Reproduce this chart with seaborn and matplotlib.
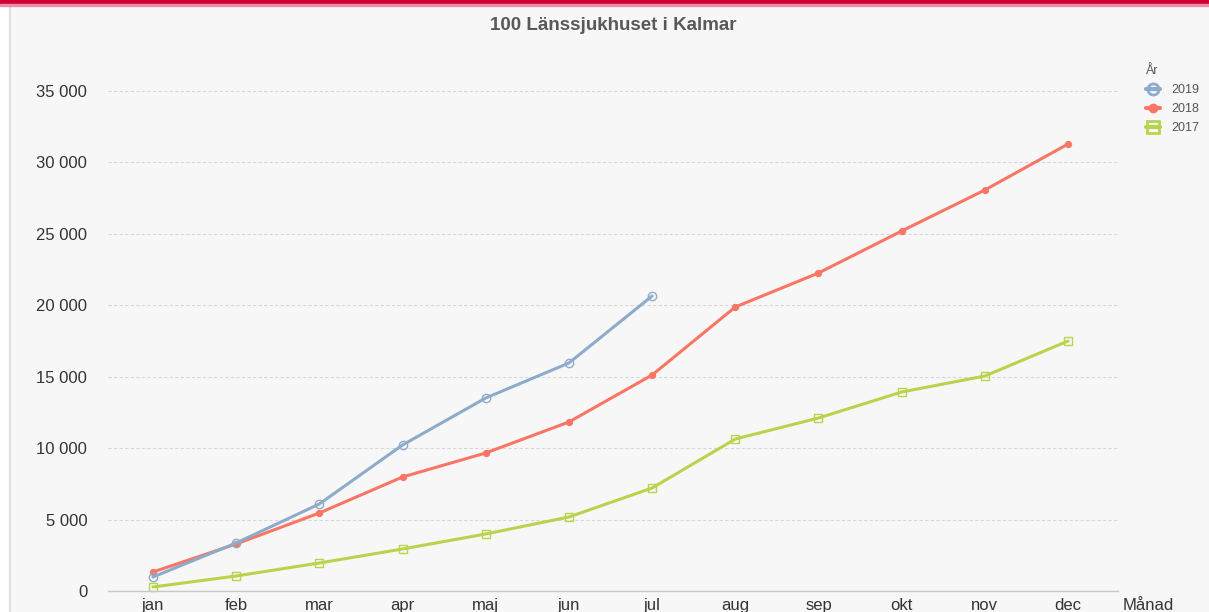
import numpy as np
import pandas as pd
import matplotlib
import matplotlib.pyplot as plt
import seaborn as sns
from matplotlib.ticker import FuncFormatter
from matplotlib.patches import Rectangle
from matplotlib.lines import Line2D

matplotlib.use('Agg')

# data (cumulative per month)
months = ['jan', 'feb', 'mar', 'apr', 'maj', 'jun', 'jul', 'aug', 'sep', 'okt', 'nov', 'dec']
years = ['2019', '2018', '2017']
values_2019 = [980, 3360, 6090, 10220, 13510, 15960, 20650]
values_2018 = [1330, 3290, 5460, 7980, 9660, 11830, 15120, 19880, 22260, 25200, 28070, 31290]
values_2017 = [280, 1050, 1960, 2940, 3990, 5180, 7210, 10640, 12110, 13930, 15050, 17500]

colors = {'2019': '#8eabcb', '2018': '#fa7664', '2017': '#b8d44c'}

rows = []
for year, vals in zip(years, [values_2019, values_2018, values_2017]):
    for i, v in enumerate(vals):
        rows.append({'Månad': i, 'Värde': v, 'År': year})
df = pd.DataFrame(rows)

sns.set_style('white')
plt.rcParams['font.family'] = ['Liberation Sans', 'DejaVu Sans']

W, H = 1209, 612
fig = plt.figure(figsize=(W / 100, H / 100), dpi=100)
fig.patch.set_facecolor('#f7f7f7')

# plot area in pixel terms
left, right, top, bottom = 108, 1118, 50, 591
ax = fig.add_axes([left / W, 1 - bottom / H, (right - left) / W, (bottom - top) / H])
ax.set_facecolor('#f7f7f7')

marker_style = {
    '2019': dict(marker='o', markersize=6, markerfacecolor='none', markeredgecolor=colors['2019'], markeredgewidth=1.0),
    '2018': dict(marker='o', markersize=4.5, markerfacecolor=colors['2018'], markeredgecolor=colors['2018']),
    '2017': dict(marker='s', markersize=6, markerfacecolor='none', markeredgecolor=colors['2017'], markeredgewidth=1.0),
}

for year in ['2017', '2018', '2019']:
    sub = df[df['År'] == year]
    sns.lineplot(data=sub, x='Månad', y='Värde', color=colors[year], linewidth=2.2,
                 ax=ax, clip_on=False, **marker_style[year])

ax.set_xlim(-0.54, 11.6)
ax.set_ylim(0, (bottom - top) * 70)
ax.set_xticks(range(len(months)))
ax.set_xticklabels(months)
ax.set_yticks(np.arange(0, 35001, 5000))
ax.yaxis.set_major_formatter(FuncFormatter(lambda v, p: f"{int(v):,}".replace(",", " ")))
ax.set_xlabel('')
ax.set_ylabel('')

ax.grid(axis='y', linestyle=(0, (3, 2)), color='#d6d6d6', linewidth=0.8)
ax.grid(axis='x', visible=False)
for s in ['top', 'right', 'left']:
    ax.spines[s].set_visible(False)
ax.spines['bottom'].set_color('#c8c8c8')
ax.spines['bottom'].set_linewidth(1.0)
ax.tick_params(axis='both', length=0, labelsize=12, colors='#333333')
ax.tick_params(axis='x', pad=5)
ax.tick_params(axis='y', pad=15)

fig.text(613 / W, 1 - 25 / H, '100 Länssjukhuset i Kalmar', ha='center', va='center',
         fontsize=13.5, fontweight='bold', color='#595959')
fig.text(1148 / W, 1 - 605 / H, 'Månad', ha='center', va='center', fontsize=12, color='#333333')

# legend
leg_style = {
    '2019': dict(marker='o', markersize=8, markerfacecolor='none', markeredgecolor=colors['2019'], markeredgewidth=2),
    '2018': dict(marker='o', markersize=6, markerfacecolor=colors['2018'], markeredgecolor=colors['2018']),
    '2017': dict(marker='s', markersize=8, markerfacecolor='none', markeredgecolor=colors['2017'], markeredgewidth=2),
}
handles = [Line2D([], [], color=colors[y], linewidth=3, **leg_style[y]) for y in years]
leg = fig.legend(handles, years, title='År', loc='upper left', bbox_to_anchor=(1135 / W, 1 - 54 / H),
                 frameon=False, fontsize=9, title_fontsize=9, handlelength=1.1,
                 labelspacing=0.55, handletextpad=0.9, alignment='left')
for t in leg.get_texts():
    t.set_color('#555555')
leg.get_title().set_color('#555555')

# red header bar and left border
fig.patches.append(Rectangle((0, 1 - 4 / H), 1, 4 / H, transform=fig.transFigure, color='#d10034', zorder=5))
fig.patches.append(Rectangle((0, 1 - 6 / H), 1, 2 / H, transform=fig.transFigure, color='#ec8ea4', zorder=5))
fig.patches.append(Rectangle((0, 0), 9 / W, 1 - 6 / H, transform=fig.transFigure, color='white', zorder=4))
fig.patches.append(Rectangle((9 / W, 0), 1 / W, 1 - 6 / H, transform=fig.transFigure, color='#e2e2e2', zorder=4))

plt.savefig('out.png', dpi=100, facecolor=fig.get_facecolor())
plt.close()
